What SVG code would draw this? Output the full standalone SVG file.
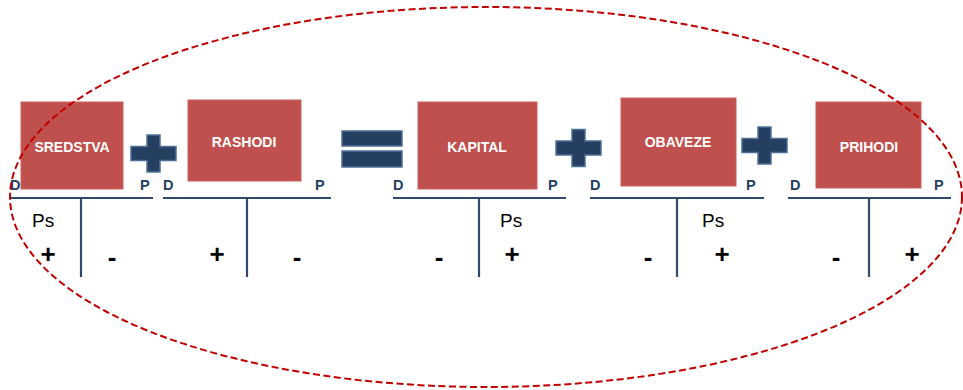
<svg xmlns="http://www.w3.org/2000/svg" width="963" height="390" viewBox="0 0 963 390">
<defs>
<style>
.box{fill:#C0504D;stroke:#C9625F;stroke-width:1}
.bt{font-family:"Liberation Sans",Arial,sans-serif;font-weight:bold;font-size:14px;fill:#FFFFFF;text-anchor:middle}
.dp{font-family:"Liberation Sans",Arial,sans-serif;font-weight:bold;font-size:14.5px;fill:#243F60}
.ln{stroke:#2F4A6D;stroke-width:2.2;fill:none}
.ps{font-family:"Liberation Sans",Arial,sans-serif;font-size:19px;fill:#000}
.sg{font-family:"Liberation Sans",Arial,sans-serif;font-weight:bold;font-size:26px;fill:#000;text-anchor:middle}
.op{fill:#243F60;stroke:#4F6F99;stroke-width:1.5}
</style>
<path id="plus" d="M-6.5,-18.5 h13 v11.5 h16 v14 h-16 v11.5 h-13 v-11.5 h-16 v-14 h16 z"/>
</defs>
<rect width="963" height="390" fill="#FFFFFF"/>

<g id="sredstva">
<rect class="box" x="21" y="102" width="102" height="87"/>
<text class="bt" x="72" y="152">SREDSTVA</text>
<text class="dp" x="10" y="190">D</text>
<text class="dp" x="140" y="190">P</text>
<line class="ln" x1="10" y1="198" x2="153" y2="198"/>
<line class="ln" x1="81" y1="198" x2="81" y2="277"/>
<text class="ps" x="32" y="227">Ps</text>
<text class="sg" x="48" y="263">+</text>
<text class="sg" x="112" y="266">-</text>
</g>

<g id="rashodi">
<rect class="box" x="188" y="100" width="113" height="81"/>
<text class="bt" x="244" y="147">RASHODI</text>
<text class="dp" x="163" y="190">D</text>
<text class="dp" x="315" y="190">P</text>
<line class="ln" x1="163" y1="198" x2="331" y2="198"/>
<line class="ln" x1="247" y1="198" x2="247" y2="277"/>
<text class="sg" x="217" y="263">+</text>
<text class="sg" x="297" y="266">-</text>
</g>

<g id="kapital">
<rect class="box" x="418" y="102" width="119" height="87"/>
<text class="bt" x="477" y="152">KAPITAL</text>
<text class="dp" x="393" y="190">D</text>
<text class="dp" x="548" y="190">P</text>
<line class="ln" x1="393" y1="198" x2="566" y2="198"/>
<line class="ln" x1="479" y1="198" x2="479" y2="277"/>
<text class="ps" x="500" y="227">Ps</text>
<text class="sg" x="439" y="266">-</text>
<text class="sg" x="512" y="263">+</text>
</g>

<g id="obaveze">
<rect class="box" x="621" y="98" width="115" height="88"/>
<text class="bt" x="678" y="147">OBAVEZE</text>
<text class="dp" x="590" y="190">D</text>
<text class="dp" x="746" y="190">P</text>
<line class="ln" x1="590" y1="198" x2="764" y2="198"/>
<line class="ln" x1="677" y1="198" x2="677" y2="277"/>
<text class="ps" x="702" y="227">Ps</text>
<text class="sg" x="648" y="266">-</text>
<text class="sg" x="722" y="263">+</text>
</g>

<g id="prihodi">
<rect class="box" x="816" y="102" width="105" height="86"/>
<text class="bt" x="869" y="152">PRIHODI</text>
<text class="dp" x="790" y="190">D</text>
<text class="dp" x="934" y="190">P</text>
<line class="ln" x1="788" y1="198" x2="951" y2="198"/>
<line class="ln" x1="869" y1="198" x2="869" y2="277"/>
<text class="sg" x="836" y="266">-</text>
<text class="sg" x="912" y="263">+</text>
</g>

<g id="operators">
<use href="#plus" class="op" transform="translate(153.5,153.5)"/>
<rect class="op" x="342" y="131" width="60" height="15"/>
<rect class="op" x="342" y="151" width="60" height="16"/>
<use href="#plus" class="op" transform="translate(578.5,148)"/>
<use href="#plus" class="op" transform="translate(764.5,145.5)"/>
</g>

<g id="connectors">
<ellipse cx="486" cy="197" rx="476" ry="190" fill="none" stroke="#C00000" stroke-width="2" stroke-dasharray="7,3.5"/>
</g>
</svg>
